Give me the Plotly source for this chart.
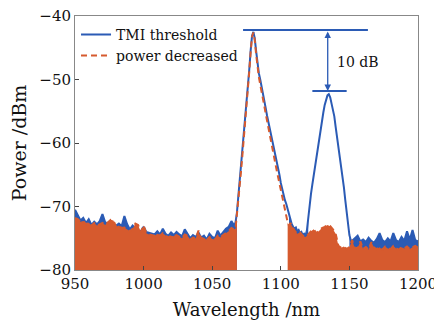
import plotly.graph_objects as go

# ---------------- data ----------------
Y_MIN, Y_MAX = -80, -40
X_MIN, X_MAX = 950, 1200
X_TICKS = [950, 1000, 1050, 1100, 1150, 1200]
Y_TICKS = [-80, -70, -60, -50, -40]

SERIES_NAMES = ["TMI threshold", "power decreased"]

# TMI threshold spectrum (wavelength grid: 950-1066 step 2, 1067-1151 step 1, 1152-1200 step 2)
tmi_wl = list(range(950, 1067, 2)) + list(range(1067, 1152)) + list(range(1152, 1201, 2))
tmi_db = [
    -70.5, -71.3, -72.2, -71.8, -72.6, -72.0, -72.9, -72.4, -72.8, -72.3,
    -71.2, -72.5, -72.6, -72.4, -72.9, -73.0, -72.7, -73.1, -71.5, -72.8,
    -73.6, -73.0, -73.4, -73.8, -73.9, -73.2, -74.0, -74.1, -74.3, -74.4,
    -73.9, -74.4, -73.5, -74.3, -74.6, -74.1, -74.5, -74.0, -74.4, -74.7,
    -73.6, -74.2, -75.0, -74.5, -74.8, -74.1, -74.9, -74.6, -75.2, -74.3,
    -74.8, -75.0, -73.8, -74.6, -74.0, -73.5, -73.2, -72.3, -73.0,
    # 1067 - 1151
    -72.5, -71.0, -68.5, -66.5, -64.0, -61.5, -59.0, -57.0, -54.5, -51.5,
    -48.5, -45.5, -43.2, -42.5, -43.5, -45.5, -47.5, -49.0, -50.0, -51.0,
    -52.2, -53.3, -54.5, -55.7, -56.7, -57.6, -58.6, -59.6, -60.8, -61.9,
    -63.0, -64.0, -65.0, -66.3, -67.3, -68.0, -69.0, -69.6, -70.4, -71.3,
    -72.0, -72.8, -73.2, -73.5, -73.3, -73.9, -73.7, -74.2, -74.0, -74.5,
    -74.3, -74.6, -73.8, -71.5, -69.5, -68.0, -66.5, -65.0, -63.5, -62.0,
    -60.8, -59.3, -57.8, -56.3, -55.2, -54.0, -53.0, -52.5, -52.3, -52.8,
    -53.8, -54.8, -55.8, -57.5, -59.0, -60.5, -62.0, -63.7, -65.3, -67.0,
    -69.0, -71.0, -73.0, -74.5, -75.3,
    # 1152 - 1200
    -75.4, -75.0, -74.6, -75.5, -75.2, -75.6, -74.9, -75.4, -75.7, -75.1,
    -74.2, -75.3, -75.6, -75.0, -75.5, -74.2, -75.3, -75.6, -74.8, -75.4,
    -73.9, -75.2, -73.7, -75.3, -75.5,
]

# power decreased spectrum (grid: 950-1066 step 2, 1067-1110 step 1, 1112-1200 step 2)
dec_wl = list(range(950, 1067, 2)) + list(range(1067, 1111)) + list(range(1112, 1201, 2))
dec_db = [
    -71.8, -72.0, -72.4, -72.3, -72.8, -72.5, -73.0, -72.6, -73.0, -72.8,
    -72.6, -72.9, -72.5, -72.1, -72.2, -73.2, -73.0, -73.4, -73.3, -73.6,
    -73.9, -73.5, -72.7, -72.9, -74.0, -73.0, -74.2, -74.4, -74.5, -74.6,
    -74.3, -74.6, -74.2, -74.5, -74.9, -74.6, -74.7, -74.5, -74.8, -75.0,
    -74.4, -74.6, -75.2, -74.9, -75.0, -73.8, -75.1, -74.9, -75.3, -74.8,
    -75.1, -75.2, -74.6, -74.9, -74.5, -74.2, -73.9, -73.4, -73.6,
    # 1067 - 1110
    -73.5, -71.5, -69.0, -67.0, -64.5, -62.0, -59.5, -57.3, -54.8, -51.8,
    -48.8, -45.8, -43.3, -42.6, -43.8, -46.0, -48.0, -49.6, -50.8, -51.8,
    -53.0, -54.2, -55.4, -56.6, -57.6, -58.6, -59.7, -60.8, -62.0, -63.2,
    -64.3, -65.3, -66.5, -67.6, -68.6, -69.5, -70.5, -71.5, -72.5, -73.0,
    -72.6, -73.0, -73.4, -73.8,
    # 1112 - 1200
    -74.3, -74.1, -74.6, -74.8, -74.4, -73.9, -73.6, -74.2, -73.8, -73.4,
    -73.2, -72.9, -73.1, -73.6, -74.3, -76.2, -76.5, -76.3, -76.7, -76.4,
    -75.3, -76.6, -76.5, -75.5, -76.7, -76.4, -76.8, -75.6, -76.5, -76.7,
    -76.4, -76.8, -76.3, -76.6, -76.7, -76.2, -76.6, -76.8, -76.4, -76.6,
    -76.3, -76.7, -76.4, -76.2, -76.5,
]

# wavelength spans where the noise floor reaches the bottom of the plot
tmi_floor_spans = [(950, 1068), (1106, 1120), (1150, 1200)]
dec_floor_spans = [(950, 1068), (1105, 1200)]

# annotation values: the two peak levels and the marked difference
peak1_level, peak1_span = -42.2, (1072.5, 1163.5)
peak2_level, peak2_span = -51.8, (1123, 1148)
arrow_wl = 1134.2
diff_label = "10 dB"
label_pos = (1156, -47.2)

BLUE = "#2B5BB5"
ORANGE = "#D65A2E"
FONT = "DejaVu Serif"


def floor_fill(wl, db, span, color):
    lo, hi = span
    xs = [w for w in wl if lo <= w <= hi]
    ys = [d for w, d in zip(wl, db) if lo <= w <= hi]
    return go.Scatter(
        x=xs + [xs[-1], xs[0]], y=ys + [Y_MIN, Y_MIN],
        fill="toself", fillcolor=color, mode="lines",
        line=dict(width=0, color=color), showlegend=False, hoverinfo="skip",
    )


fig = go.Figure()
for sp in tmi_floor_spans:
    fig.add_trace(floor_fill(tmi_wl, tmi_db, sp, BLUE))
fig.add_trace(go.Scatter(x=tmi_wl, y=tmi_db, mode="lines", name=SERIES_NAMES[0],
                         line=dict(color=BLUE, width=2)))
for sp in dec_floor_spans:
    fig.add_trace(floor_fill(dec_wl, dec_db, sp, ORANGE))
fig.add_trace(go.Scatter(x=dec_wl, y=dec_db, mode="lines", name=SERIES_NAMES[1],
                         line=dict(color=ORANGE, width=2, dash="6px,4px")))

# peak level markers
fig.add_shape(type="line", x0=peak1_span[0], x1=peak1_span[1], y0=peak1_level, y1=peak1_level,
              line=dict(color=BLUE, width=2))
fig.add_shape(type="line", x0=peak2_span[0], x1=peak2_span[1], y0=peak2_level, y1=peak2_level,
              line=dict(color=BLUE, width=2))
fig.add_annotation(x=arrow_wl, y=peak2_level, ax=arrow_wl, ay=peak1_level,
                   xref="x", yref="y", axref="x", ayref="y", text="",
                   showarrow=True, arrowhead=2, arrowside="end+start",
                   arrowsize=1, arrowwidth=1.3, arrowcolor=BLUE)
fig.add_annotation(x=label_pos[0], y=label_pos[1], xref="x", yref="y", text=diff_label,
                   showarrow=False, font=dict(family=FONT, size=14, color="#111"))

axis_common = dict(showline=True, linecolor="#888", linewidth=1, mirror=True,
                   ticks="inside", ticklen=4, tickcolor="#444", showgrid=False,
                   zeroline=False, automargin=False, ticklabeloverflow="allow",
                   tickfont=dict(family=FONT, size=15, color="#111"))
fig.update_xaxes(range=[X_MIN, X_MAX], tickvals=X_TICKS,
                 title=dict(text="Wavelength /nm", font=dict(family=FONT, size=18, color="#111"),
                            standoff=11), **axis_common)
fig.update_yaxes(range=[Y_MIN, Y_MAX], tickvals=Y_TICKS,
                 tickformat="d",
                 title=dict(text="Power /dBm", font=dict(family=FONT, size=19, color="#111"),
                            standoff=13), **axis_common)

# the page body adds an 8 px offset, so the figure is 8 px smaller on each side
fig.update_layout(
    width=434, height=314,
    margin=dict(l=67, r=24, t=8, b=52, autoexpand=False),
    plot_bgcolor="white", paper_bgcolor="white",
    legend=dict(x=0.003, y=0.989, xanchor="left", yanchor="top", bgcolor="rgba(0,0,0,0)",
                font=dict(family=FONT, size=14, color="#111"), tracegroupgap=0,
                itemwidth=30),
)
fig.write_html("out.html")
